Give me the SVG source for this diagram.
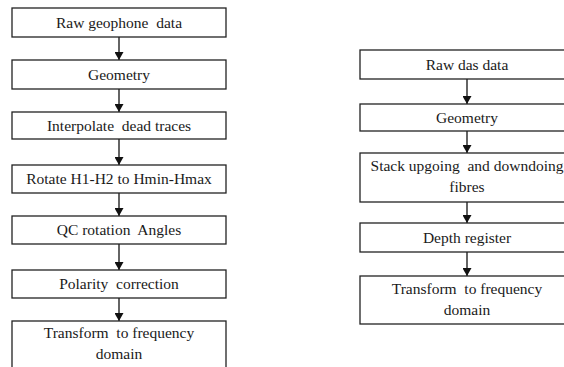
<svg xmlns="http://www.w3.org/2000/svg" width="564" height="367" viewBox="0 0 564 367">
<defs>
<style>
.box{fill:#fff;stroke:#222;stroke-width:1.3}
.t{font-family:'Liberation Serif','Times New Roman',serif;font-size:15.5px;fill:#1a1a1a;text-anchor:middle;white-space:pre}
.c{stroke:#111;stroke-width:1.3;fill:none;marker-end:url(#ah)}
</style>
<marker id="ah" viewBox="0 0 8 9" refX="8" refY="4.5" markerWidth="8" markerHeight="9" markerUnits="userSpaceOnUse" orient="auto">
<path d="M0,0 L8,4.5 L0,9 Z" fill="#111"/>
</marker>
</defs>
<rect width="564" height="367" fill="#fff"/>
<g id="connectors">
<line class="c" x1="119" y1="37" x2="119" y2="60"/>
<line class="c" x1="119" y1="89" x2="119" y2="112"/>
<line class="c" x1="119" y1="139" x2="119" y2="165"/>
<line class="c" x1="119" y1="193" x2="119" y2="216"/>
<line class="c" x1="119" y1="244" x2="119" y2="270"/>
<line class="c" x1="119" y1="298" x2="119" y2="321"/>
<line class="c" x1="467" y1="79" x2="467" y2="104"/>
<line class="c" x1="467" y1="131" x2="467" y2="153"/>
<line class="c" x1="467" y1="202" x2="467" y2="223"/>
<line class="c" x1="467" y1="252" x2="467" y2="276"/>
</g>
<g id="l1"><rect class="box" x="12" y="8" width="214" height="29"/><text class="t" x="119" y="28">Raw geophone  data</text></g>
<g id="l2"><rect class="box" x="12" y="60" width="214" height="29"/><text class="t" x="119" y="80">Geometry</text></g>
<g id="l3"><rect class="box" x="12" y="112" width="214" height="27"/><text class="t" x="119" y="131">Interpolate  dead traces</text></g>
<g id="l4"><rect class="box" x="12" y="165" width="214" height="28"/><text class="t" x="119" y="184">Rotate H1-H2 to Hmin-Hmax</text></g>
<g id="l5"><rect class="box" x="12" y="216" width="214" height="28"/><text class="t" x="119" y="235">QC rotation  Angles</text></g>
<g id="l6"><rect class="box" x="12" y="270" width="214" height="28"/><text class="t" x="119" y="289">Polarity  correction</text></g>
<g id="l7"><rect class="box" x="12" y="321" width="214" height="60"/><text class="t" x="119" y="338">Transform  to frequency</text><text class="t" x="119" y="359">domain</text></g>
<g id="r1"><rect class="box" x="360" y="50" width="230" height="29"/><text class="t" x="467" y="70">Raw das data</text></g>
<g id="r2"><rect class="box" x="360" y="104" width="230" height="27"/><text class="t" x="467" y="123">Geometry</text></g>
<g id="r3"><rect class="box" x="360" y="153" width="230" height="49"/><text class="t" x="467" y="171">Stack upgoing  and downdoing</text><text class="t" x="467" y="192">fibres</text></g>
<g id="r4"><rect class="box" x="360" y="223" width="230" height="29"/><text class="t" x="467" y="243">Depth register</text></g>
<g id="r5"><rect class="box" x="360" y="276" width="230" height="48"/><text class="t" x="467" y="294">Transform  to frequency</text><text class="t" x="467" y="315">domain</text></g>
</svg>
